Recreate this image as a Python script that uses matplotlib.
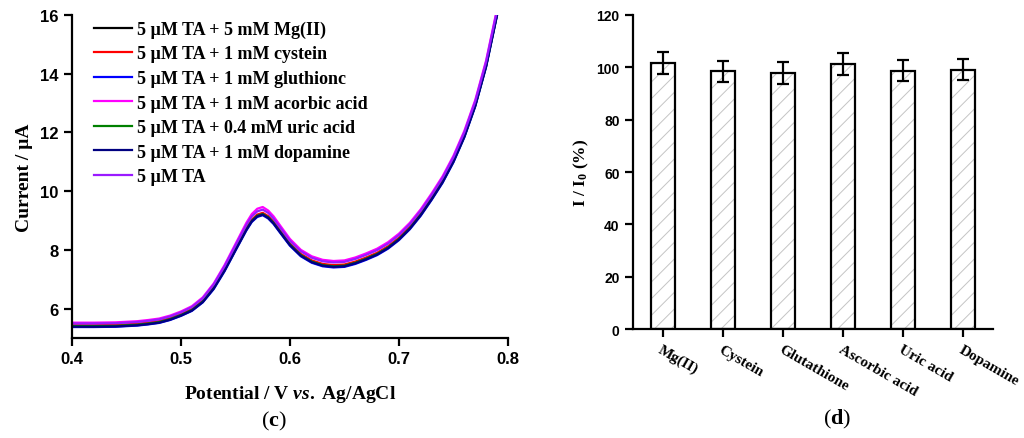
import numpy as np
import matplotlib
matplotlib.use('Agg')
import matplotlib.pyplot as plt
import matplotlib.transforms as mtransforms

# -----------------------------
# Datos (c): DPV, corriente vs potencial
# -----------------------------
potential = [0.40, 0.42, 0.44, 0.46, 0.47, 0.48, 0.49, 0.50, 0.51, 0.52,
             0.53, 0.54, 0.55, 0.56, 0.565, 0.57, 0.575, 0.58, 0.585, 0.59,
             0.60, 0.61, 0.62, 0.63, 0.64, 0.65, 0.66, 0.67, 0.68, 0.69,
             0.70, 0.71, 0.72, 0.73, 0.74, 0.75, 0.76, 0.77, 0.78, 0.79]

i_mg = [5.41, 5.41, 5.42, 5.46, 5.50, 5.55, 5.65, 5.79, 5.96, 6.25,
        6.71, 7.32, 8.02, 8.71, 9.00, 9.17, 9.23, 9.12, 8.93, 8.68,
        8.19, 7.83, 7.61, 7.49, 7.45, 7.47, 7.57, 7.71, 7.87, 8.09,
        8.38, 8.75, 9.21, 9.75, 10.33, 11.03, 11.88, 12.93, 14.28, 16.03]
i_cys = [5.43, 5.43, 5.44, 5.48, 5.52, 5.57, 5.67, 5.81, 5.98, 6.27,
         6.73, 7.35, 8.05, 8.74, 9.03, 9.20, 9.26, 9.15, 8.96, 8.71,
         8.22, 7.86, 7.64, 7.52, 7.48, 7.50, 7.60, 7.74, 7.90, 8.12,
         8.41, 8.78, 9.24, 9.78, 10.36, 11.06, 11.91, 12.96, 14.31, 16.06]
i_glu = [5.37, 5.37, 5.38, 5.42, 5.46, 5.51, 5.61, 5.75, 5.92, 6.21,
         6.66, 7.27, 7.97, 8.66, 8.95, 9.12, 9.18, 9.07, 8.88, 8.63,
         8.14, 7.78, 7.56, 7.44, 7.40, 7.42, 7.52, 7.66, 7.82, 8.04,
         8.33, 8.70, 9.16, 9.70, 10.28, 10.98, 11.83, 12.88, 14.23, 15.98]
i_asc = [5.52, 5.52, 5.53, 5.57, 5.61, 5.66, 5.76, 5.90, 6.08, 6.38,
         6.85, 7.48, 8.20, 8.92, 9.22, 9.40, 9.46, 9.34, 9.14, 8.88,
         8.37, 8.00, 7.78, 7.66, 7.62, 7.64, 7.74, 7.88, 8.04, 8.26,
         8.55, 8.92, 9.38, 9.92, 10.50, 11.20, 12.05, 13.10, 14.45, 16.20]
i_uric = [5.40, 5.40, 5.41, 5.45, 5.49, 5.54, 5.64, 5.78, 5.95, 6.24,
          6.70, 7.31, 8.01, 8.70, 8.99, 9.16, 9.22, 9.11, 8.92, 8.67,
          8.18, 7.82, 7.60, 7.48, 7.44, 7.46, 7.56, 7.70, 7.86, 8.08,
          8.37, 8.74, 9.20, 9.74, 10.32, 11.02, 11.87, 12.92, 14.27, 16.02]
i_dop = [5.38, 5.38, 5.39, 5.43, 5.47, 5.52, 5.62, 5.76, 5.93, 6.22,
         6.68, 7.29, 7.99, 8.68, 8.97, 9.14, 9.20, 9.09, 8.90, 8.65,
         8.16, 7.80, 7.58, 7.46, 7.42, 7.44, 7.54, 7.68, 7.84, 8.06,
         8.35, 8.72, 9.18, 9.72, 10.30, 11.00, 11.85, 12.90, 14.25, 16.00]
i_ta = [5.49, 5.49, 5.50, 5.54, 5.58, 5.63, 5.73, 5.87, 6.05, 6.35,
        6.82, 7.44, 8.15, 8.85, 9.14, 9.31, 9.37, 9.26, 9.06, 8.81,
        8.31, 7.95, 7.73, 7.61, 7.57, 7.59, 7.69, 7.83, 7.99, 8.21,
        8.50, 8.87, 9.33, 9.87, 10.45, 11.15, 12.00, 13.05, 14.40, 16.15]

series_labels = ['5 \u00b5M TA + 5 mM Mg(II)', '5 \u00b5M TA + 1 mM cystein',
                 '5 \u00b5M TA + 1 mM gluthionc', '5 \u00b5M TA + 1 mM acorbic acid',
                 '5 \u00b5M TA + 0.4 mM uric acid', '5 \u00b5M TA + 1 mM dopamine',
                 '5 \u00b5M TA']
series_data = [i_mg, i_cys, i_glu, i_asc, i_uric, i_dop, i_ta]
series_colors = ['black', 'red', 'blue', 'magenta', 'green', 'navy', '#9a1aff']

# -----------------------------
# Datos (d): I/I0 para interferentes
# -----------------------------
interferents = ['Mg(II)', 'Cystein', 'Glutathione', 'Ascorbic acid', 'Uric acid', 'Dopamine']
ratio = [101.7, 98.5, 97.9, 101.4, 98.7, 99.0]
ratio_err = [4.3, 4.0, 4.1, 4.2, 4.1, 4.0]

serif = 'Liberation Serif'
sans = 'Liberation Sans'
plt.rcParams['mathtext.fontset'] = 'custom'
plt.rcParams['mathtext.bf'] = 'Liberation Serif:bold'
plt.rcParams['mathtext.rm'] = 'Liberation Serif:bold'
plt.rcParams['mathtext.it'] = 'Liberation Serif:bold:italic'
plt.rcParams['hatch.linewidth'] = 0.7

fig = plt.figure(figsize=(10.24, 4.39), dpi=100)
ax1 = fig.add_axes([0.0703, 0.228, 0.4257, 0.7356])
ax2 = fig.add_axes([0.618, 0.248, 0.352, 0.7156])

# --- (c) ---
for y, lab, c in zip(series_data, series_labels, series_colors):
    ax1.plot(potential, y, color=c, linewidth=1.6, label=lab)
ax1.set_xlim(0.4, 0.8)
ax1.set_ylim(5, 16)
ax1.set_xticks([0.4, 0.5, 0.6, 0.7, 0.8])
ax1.set_yticks([6, 8, 10, 12, 14, 16])
ax1.set_xticklabels(['0.4', '0.5', '0.6', '0.7', '0.8'])
ax1.set_xlabel('Potential / V $\\mathit{vs.}$ Ag/AgCl', fontfamily=serif,
               fontweight='bold', fontsize=14, labelpad=12)
ax1.set_ylabel('Current / \u00b5A', fontfamily=serif, fontweight='bold',
               fontsize=14, labelpad=5)
leg = ax1.legend(loc='upper left', frameon=False, handlelength=2.1,
                 handletextpad=0.25, labelspacing=0.42, borderaxespad=0.0,
                 bbox_to_anchor=(0.035, 1.005),
                 prop={'family': serif, 'weight': 'bold', 'size': 13})

# --- (d) ---
x = np.arange(len(interferents))
ax2.bar(x, ratio, width=0.4, color='white', edgecolor='#c4c4c4',
        linewidth=0, hatch='//')
ax2.bar(x, ratio, width=0.4, fill=False, edgecolor='black', linewidth=1.6)
ax2.errorbar(x, ratio, yerr=ratio_err, fmt='none', ecolor='black',
             elinewidth=1.6, capsize=4, capthick=1.6)
ax2.set_xlim(-0.5, 5.5)
ax2.set_ylim(0, 120)
ax2.set_yticks([0, 20, 40, 60, 80, 100, 120])
ax2.set_xticks(x)
ax2.set_xticklabels(interferents, rotation=-30, ha='left', va='top',
                    rotation_mode='anchor', fontfamily=serif,
                    fontweight='bold', fontsize=11)
offset = mtransforms.ScaledTranslation(-0.09, -0.04, fig.dpi_scale_trans)
for lab in ax2.get_xticklabels():
    lab.set_transform(lab.get_transform() + offset)
ax2.set_ylabel('I / I$_\\mathbf{0}$ (%)', fontfamily=serif, fontweight='bold',
               fontsize=12.5, labelpad=4)

for ax in (ax1, ax2):
    for s in ('top', 'right'):
        ax.spines[s].set_visible(False)
    for s in ('left', 'bottom'):
        ax.spines[s].set_linewidth(1.6)
    ax.tick_params(direction='out', length=6, width=1.6)
    for lab in ax.get_yticklabels():
        lab.set_fontfamily(sans)
        lab.set_fontweight('bold')
for lab in ax1.get_xticklabels():
    lab.set_fontfamily(sans)
    lab.set_fontweight('bold')
for lab in ax1.get_xticklabels() + ax1.get_yticklabels():
    lab.set_fontsize(12)
for lab in ax2.get_yticklabels():
    lab.set_fontsize(10)

fig.text(0.267, 0.04, '($\\mathbf{c}$)', fontfamily=serif, fontsize=16,
         ha='center', va='center')
fig.text(0.818, 0.045, '($\\mathbf{d}$)', fontfamily=serif, fontsize=16,
         ha='center', va='center')

fig.savefig('out.png', dpi=100)
